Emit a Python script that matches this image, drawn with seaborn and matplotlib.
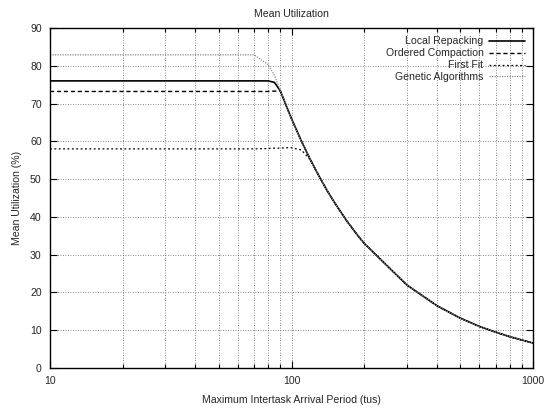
import matplotlib
matplotlib.use("Agg")
import matplotlib.pyplot as plt
import matplotlib.ticker as mticker
import seaborn as sns
import pandas as pd

# ---- data ----
periods = [10, 20, 30, 40, 50, 60, 70, 80, 85, 90, 95, 100, 110, 120, 130, 140,
           150, 160, 170, 180, 190, 200, 300, 400, 500, 600, 700, 800, 900, 1000]
tail = [66.0, 60.0, 55.0, 50.8, 47.1, 44.0, 41.3, 38.8, 36.7, 34.7, 33.0,
        22.0, 16.5, 13.2, 11.0, 9.5, 8.3, 7.4, 6.6]   # from 100 upward
local_repacking = [76.0, 76.0, 76.0, 76.0, 76.0, 76.0, 76.0, 76.0, 75.6, 73.3, 69.5] + tail
ordered_compaction = [73.2, 73.2, 73.2, 73.2, 73.2, 73.2, 73.2, 73.2, 73.3, 73.3, 69.5] + tail
first_fit = [58.0, 58.0, 58.0, 58.0, 58.0, 58.0, 58.0, 58.1, 58.2, 58.2, 58.3,
             58.3, 57.7] + tail[2:]
genetic = [82.9, 82.9, 82.9, 82.9, 82.9, 82.9, 82.9, 80.3, 77.5, 73.3, 69.5] + tail

series_names = ["Local Repacking", "Ordered Compaction", "First Fit", "Genetic Algorithms"]
series_values = [local_repacking, ordered_compaction, first_fit, genetic]

x_ticks = [10, 100, 1000]
x_tick_labels = ["10", "100", "1000"]
y_ticks = [0, 10, 20, 30, 40, 50, 60, 70, 80, 90]

sns.set_style("ticks")
plt.rcParams["font.family"] = ["Liberation Sans", "DejaVu Sans"]
plt.rcParams["font.size"] = 7.6

fig = plt.figure(figsize=(5.59, 4.08), dpi=100)
ax = fig.add_axes([50 / 559, 1 - 368 / 408, (533 - 50) / 559, (368 - 28) / 408])

styles = [
    dict(color="black", linestyle="-", linewidth=1.2),
    dict(color="black", linestyle=(0, (3, 2)), linewidth=1.0),
    dict(color="black", linestyle=(0, (1.5, 2)), linewidth=0.9),
    dict(color="#888888", linestyle=(0, (1, 1)), linewidth=0.9),
]

for name, vals, st in zip(series_names, series_values, styles):
    df = pd.DataFrame({"period": periods, "util": vals})
    sns.lineplot(data=df, x="period", y="util", ax=ax, label=name, **st)

ax.set_xscale("log")
ax.set_xlim(10, 1000)
ax.set_ylim(0, 90)
ax.set_xticks(x_ticks)
ax.set_xticklabels(x_tick_labels)
ax.xaxis.set_minor_locator(mticker.LogLocator(base=10, subs=range(2, 10)))
ax.xaxis.set_minor_formatter(mticker.NullFormatter())
ax.set_yticks(y_ticks)

ax.grid(True, which="both", axis="x", color="#666666", linestyle=(0, (1, 2)), linewidth=0.6)
ax.grid(True, which="major", axis="y", color="#666666", linestyle=(0, (1, 2)), linewidth=0.6)

ax.tick_params(which="both", direction="in", top=True, right=True, labelsize=7.6, color="black")
ax.tick_params(which="major", length=5, width=0.8, pad=6)
ax.tick_params(which="minor", length=3, width=0.8)
for sp in ax.spines.values():
    sp.set_linewidth(1.0)
    sp.set_color("black")

ax.set_xlabel("Maximum Intertask Arrival Period (tus)", fontsize=7.6, labelpad=6)
ax.set_ylabel("Mean Utilization (%)", fontsize=7.6, labelpad=6)
ax.set_title("Mean Utilization", fontsize=7.6, pad=8)

leg = ax.legend(loc="upper right", frameon=False, markerfirst=False, fontsize=7.6,
                handlelength=3.4, handletextpad=0.5, labelspacing=0.18,
                borderaxespad=0.6, borderpad=0.2)

fig.savefig("out.png", dpi=100)
